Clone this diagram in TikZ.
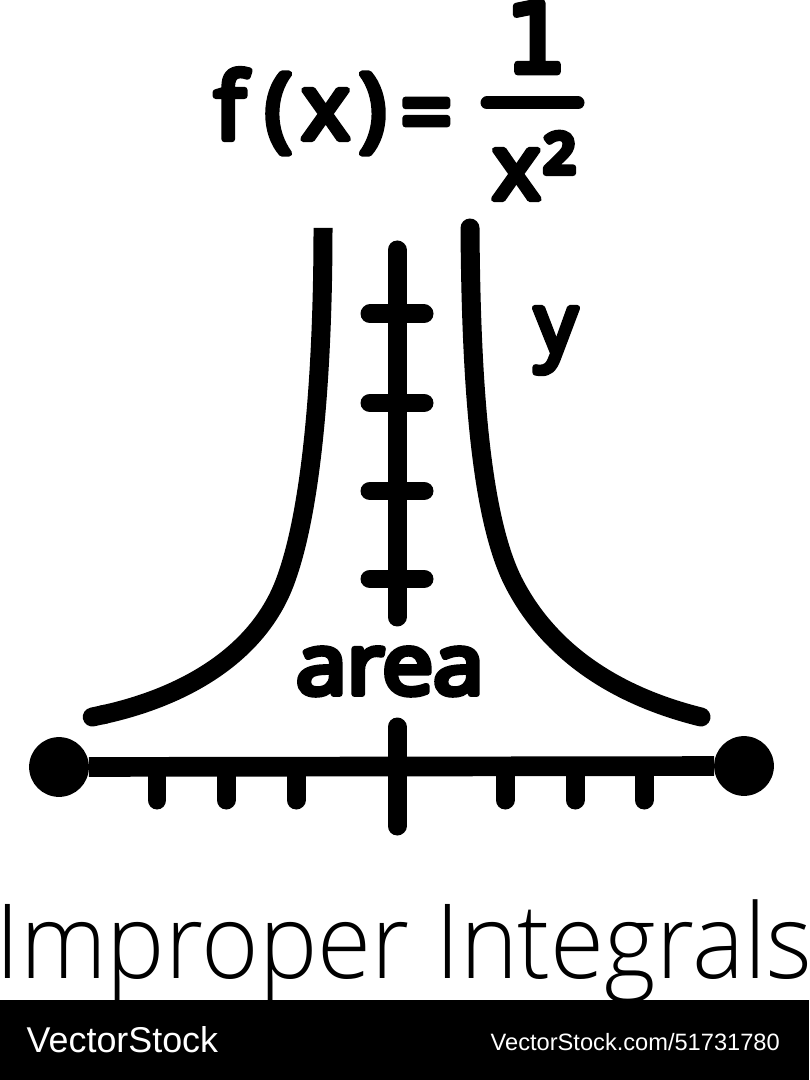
\documentclass[tikz,border=0pt]{standalone}
\usepackage{fontspec}
\usetikzlibrary{arrows.meta}
\setmainfont{Open Sans}
\newfontfamily\markfont[FakeBold=7]{Open Sans}
\newfontfamily\onefont[FakeBold=7]{DejaVu Sans}
\newfontfamily\titlefont{Open Sans Light}
\newfontfamily\stockfont{Liberation Sans}
\tikzset{
	curveline/.style={line width=5.4pt, line cap=round},
	axisline/.style={line width=5.6pt},
	tickline/.style={line width=5.4pt, line cap=round},
	barline/.style={line width=3.7pt, line cap=round},
	dotnode/.style={circle, fill=black, minimum size=17pt, inner sep=0pt, outer sep=0pt},
	marktext/.style={inner sep=0pt, anchor=base, line join=round, font=\markfont\fontsize{26}{26}\selectfont},
	stocktext/.style={inner sep=0pt, anchor=base west, text=white, font=\stockfont},
}
\begin{document}
\begin{tikzpicture}[x=0.01cm, y=-0.01cm]
	\useasboundingbox (0,0) rectangle (809,1080);
	% Formel oben
	\node[marktext] (func) at (333.5,139) {f\kern5.5pt(\kern2.8pt x\kern2.7pt)\kern4pt\raisebox{-1.5pt}{=}};
	\node[marktext] (one) at (536,72) {\onefont\fontsize{27}{27}\selectfont 1};
	\node[marktext] (den) at (534,199) {x\kern1pt²};
	\coordinate (barl) at (487,103);
	\coordinate (barr) at (578,103);
	\draw[barline] (barl) -- (barr);
	% Kurve
	\draw[curveline, line cap=butt, -{Round Cap[]}] (323,228) .. controls (323,380) and (311,518) .. (283,587)
		.. controls (255,655) and (185,697) .. (83,719);
	\draw[curveline] (470,228) .. controls (471,380) and (480,522) .. (516,587)
		.. controls (550,650) and (612,695) .. (701,717);
	% y-Achse
	\coordinate (ytop) at (397,250);
	\coordinate (ybot) at (397,617);
	\draw[tickline] (ytop) -- (ybot);
	\foreach \y in {314,403,491,579}
		\draw[tickline] (370,\y) -- (424,\y);
	\node[marktext] (ylabel) at (556,353) {\fontsize{24}{24}\selectfont y};
	\node[marktext] (area) at (390,694) {\scalebox{1.08}[1]{\fontsize{24}{24}\selectfont area}};
	% x-Achse
	\node[dotnode] (dotl) at (59,767) {};
	\node[dotnode] (dotr) at (744,766) {};
	\draw[axisline] (dotl) -- (dotr);
	\draw[tickline] (397,727) -- (397,826);
	\foreach \x in {157,226,296,505,575,644}
		\draw[tickline] (\x,770) -- (\x,800);
	% Titel
	\node[inner sep=0pt, anchor=base] (title) at (404,978)
		{\scalebox{.947}[1]{\titlefont\fontsize{29.5}{30}\selectfont Improper Integrals}};
	% Leiste unten
	\fill[black] (0,1000) rectangle (809,1080);
	\node[stocktext] (brand) at (26,1052) {\fontsize{10.2}{11}\selectfont VectorStock};
	\node[stocktext] (site) at (490,1050) {\fontsize{6.72}{7}\selectfont VectorStock.com/51731780};
\end{tikzpicture}
\end{document}
